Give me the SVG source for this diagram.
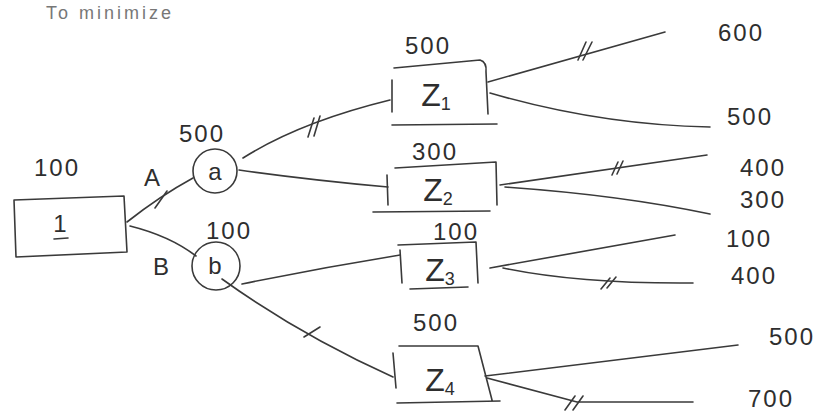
<svg xmlns="http://www.w3.org/2000/svg" width="836" height="417" viewBox="0 0 836 417">
<style>
.ln{fill:none;stroke:#3a3a3a;stroke-width:1.6;stroke-linecap:round;stroke-linejoin:round}
.t{font-family:"Liberation Sans",Arial,sans-serif;fill:#2e2e2e;text-anchor:middle}
.v{font-size:24px;letter-spacing:2px}
.z{font-size:32px}
.s{font-size:18px}
</style>
<rect width="836" height="417" fill="#ffffff"/>
<text class="t" x="110" y="19" style="font-size:18px;fill:#777;letter-spacing:3px">To minimize</text>

<g id="root">
<path class="ln" d="M14,200 L124,196 L127,252 L16,257 Z"/>
<text class="t v" x="57" y="176">100</text>
<text class="t v" x="61" y="232">1</text>
<path class="ln" d="M54,239 L68,238"/>
</g>
<text class="t v" x="153" y="186">A</text>
<text class="t v" x="162" y="275">B</text>

<g id="node-a">
<circle class="ln" cx="215" cy="171" r="22"/>
<text class="t v" x="216" y="180">a</text>
<text class="t v" x="202" y="142">500</text>
</g>
<g id="node-b">
<circle class="ln" cx="216" cy="266" r="24"/>
<text class="t v" x="216" y="274">b</text>
<text class="t v" x="229" y="239">100</text>
</g>

<g id="Z1">
<path class="ln" d="M392,80 L392,112 M394,68 L480,60 Q487,62 486,72 L488,114 M392,125 L497,124"/>
<text class="t z" x="436" y="106">Z<tspan class="s" dy="4">1</tspan></text>
<text class="t v" x="428" y="54">500</text>
</g>
<g id="Z2">
<path class="ln" d="M387,175 L388,205 M395,168 L496,162 L497,205 M373,212 L490,211"/>
<text class="t z" x="438" y="201">Z<tspan class="s" dy="4">2</tspan></text>
<text class="t v" x="435" y="160">300</text>
</g>
<g id="Z3">
<path class="ln" d="M400,250 L402,283 M398,245 L476,242 L478,283 M410,289 L468,287"/>
<text class="t z" x="440" y="281">Z<tspan class="s" dy="4">3</tspan></text>
<text class="t v" x="456" y="240">100</text>
</g>
<g id="Z4">
<path class="ln" d="M393,353 L396,388 M399,346 L478,346 L492,400 M397,403 L500,401"/>
<text class="t z" x="440" y="391">Z<tspan class="s" dy="4">4</tspan></text>
<text class="t v" x="436" y="331">500</text>
</g>

<g id="leaves">
<text class="t v" x="741" y="41">600</text>
<text class="t v" x="750" y="125">500</text>
<text class="t v" x="763" y="176">400</text>
<text class="t v" x="763" y="208">300</text>
<text class="t v" x="749" y="247">100</text>
<text class="t v" x="754" y="284">400</text>
<text class="t v" x="792" y="345">500</text>
<text class="t v" x="771" y="407">700</text>
</g>

<g id="connectors">
<path class="ln" d="M127,222 Q160,196 193,178"/>
<path class="ln" d="M155,208 L167,191"/>
<path class="ln" d="M130,226 Q170,236 196,256"/>
<path class="ln" d="M243,158 Q300,122 390,100"/>
<path class="ln" d="M308,137 L314,118 M314,136 L320,116"/>
<path class="ln" d="M239,170 Q310,180 388,187"/>
<path class="ln" d="M242,284 Q320,268 400,255"/>
<path class="ln" d="M222,279 Q300,335 393,377"/>
<path class="ln" d="M304,337 L320,327"/>
<path class="ln" d="M488,82 L665,32"/>
<path class="ln" d="M578,60 L586,42 M583,60 L592,42"/>
<path class="ln" d="M490,93 Q600,125 710,127"/>
<path class="ln" d="M500,185 L707,155"/>
<path class="ln" d="M612,175 L618,162 M617,174 L623,161"/>
<path class="ln" d="M505,187 Q620,195 710,214"/>
<path class="ln" d="M490,268 L675,235"/>
<path class="ln" d="M503,268 Q580,284 693,283"/>
<path class="ln" d="M601,289 L610,278 M607,288 L616,277"/>
<path class="ln" d="M485,376 L738,345"/>
<path class="ln" d="M487,378 Q540,392 577,402 L693,402"/>
<path class="ln" d="M565,410 L575,396 M573,410 L583,396"/>
</g>
</svg>
